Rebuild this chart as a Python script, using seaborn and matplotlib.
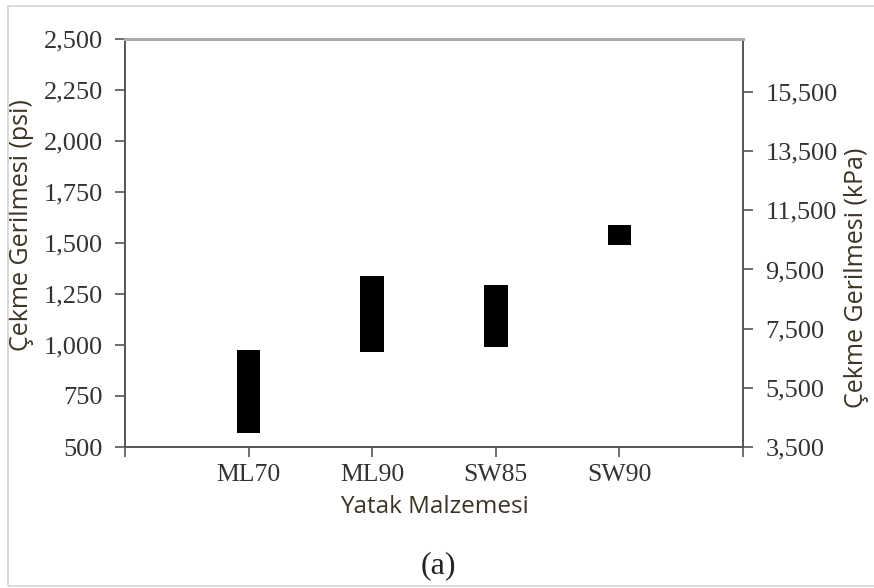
import matplotlib
matplotlib.use("Agg")
import matplotlib.pyplot as plt
import seaborn as sns
import pandas as pd
from matplotlib.patches import Rectangle

# data (psi)
materials = ["ML70", "ML90", "SW85", "SW90"]
low_psi = [569, 967, 992, 1488]
high_psi = [975, 1338, 1294, 1586]
psi_ticks = [500, 750, 1000, 1250, 1500, 1750, 2000, 2250, 2500]
kpa_ticks = [3500, 5500, 7500, 9500, 11500, 13500, 15500]

df = pd.DataFrame({"Yatak": materials, "low": low_psi, "high": high_psi})
df["span"] = df["high"] - df["low"]

sns.set_style("white")
serif = ["Liberation Serif", "DejaVu Serif"]
sans = ["Open Sans", "DejaVu Sans"]
txt = "#333333"
lab = "#3d3426"

fig = plt.figure(figsize=(8.74, 5.88), dpi=100)
ax = fig.add_axes([125 / 874, 1 - 447 / 588, (743 - 125) / 874, (447 - 39) / 588])

sns.barplot(data=df, x="Yatak", y="span", bottom=df["low"].values, color="black",
            width=0.19, saturation=1, edgecolor="black", linewidth=0, ax=ax)

ax.set_xlim(-1, 4)
ax.set_ylim(500, 2500)
ax.set_xticks([-1, 0, 1, 2, 3, 4])
ax.set_xticklabels([""] + materials + [""], fontfamily=serif, fontsize=18.5, color=txt)
ax.set_yticks(psi_ticks)
ax.set_yticklabels([f"{v:,}" for v in psi_ticks], fontfamily=serif, fontsize=19, color=txt)
ax.tick_params(axis="y", direction="out", length=7, width=1.2, color="#555555", left=True, pad=9)
ax.tick_params(axis="x", direction="out", length=7, width=1.2, color="#555555", bottom=True, pad=5)
ax.set_xlabel("Yatak Malzemesi", fontfamily=sans, fontsize=17.5, color=lab)
ax.xaxis.set_label_coords(0.5, -0.118)
ax.set_ylabel("Çekme Gerilmesi (psi)", fontfamily=sans, fontsize=18, color=lab)
ax.yaxis.set_label_coords(-0.148, 0.545)

for side in ["left", "bottom", "right"]:
    ax.spines[side].set_color("#555555")
    ax.spines[side].set_linewidth(1.4)
ax.spines["top"].set_color("#aaaaaa")
ax.spines["top"].set_linewidth(2.2)

ax2 = ax.twinx()
ax2.set_ylim(3500, 3500 + 2000 * 6.895)
ax2.set_yticks(kpa_ticks)
ax2.set_yticklabels([f"{v:,}" for v in kpa_ticks], fontfamily=serif, fontsize=19, color=txt)
ax2.tick_params(axis="y", direction="out", length=7, width=1.2, color="#555555", right=True, pad=9)
ax2.set_ylabel("Çekme Gerilmesi (kPa)", fontfamily=sans, fontsize=18, color=lab)
ax2.yaxis.set_label_coords(1.164, 0.414)
for s in ax2.spines.values():
    s.set_visible(False)

fig.text(438 / 874, 1 - 566 / 588, "(a)", ha="center", va="center",
         fontfamily=serif, fontsize=23, color="#222222")

fig.patches.append(Rectangle((8 / 874, 2 / 588), 1.2, 1 - 8 / 588, transform=fig.transFigure,
                             fill=False, edgecolor="#d4d4d4", linewidth=1.2))

fig.savefig("out.png", dpi=100)
